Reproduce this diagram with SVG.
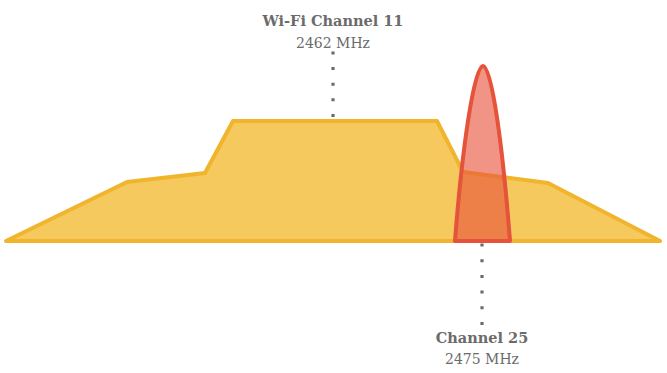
<svg xmlns="http://www.w3.org/2000/svg" width="667" height="373" viewBox="0 0 667 373">
<style>
.lbl{font-family:"DejaVu Serif","Liberation Serif",serif;fill:#6b6b6b;text-anchor:middle}
.b{font-weight:bold;font-size:14.5px}
.n{font-size:14px}
.dots{stroke:#6b6b6b;stroke-width:3.2;fill:none}
</style>
<rect width="667" height="373" fill="#ffffff"/>
<g id="wifi-channel-11">
<polygon points="6,241 127,182 205,173 233,121 437,121 463,172 548,183 660,241" fill="#f5c95e" stroke="#f0b52c" stroke-width="4" stroke-linejoin="round"/>
</g>
<g id="channel-25">
<path d="M455,241 C462,150 474,66 483,66 C492,66 503,150 510,241 Z" fill="#e9523b" fill-opacity="0.62" stroke="#e4533a" stroke-width="4" stroke-linejoin="round"/>
</g>
<g id="connectors">
<line class="dots" x1="333" y1="51.5" x2="333" y2="119" stroke-dasharray="3 12.6"/>
<line class="dots" x1="482" y1="243.5" x2="482" y2="327" stroke-dasharray="3 12.7"/>
</g>
<g id="label-11">
<text class="lbl b" x="333" y="26">Wi-Fi Channel 11</text>
<text class="lbl n" x="333" y="48">2462 MHz</text>
</g>
<g id="label-25">
<text class="lbl b" x="482" y="343">Channel 25</text>
<text class="lbl n" x="482" y="364">2475 MHz</text>
</g>
</svg>
